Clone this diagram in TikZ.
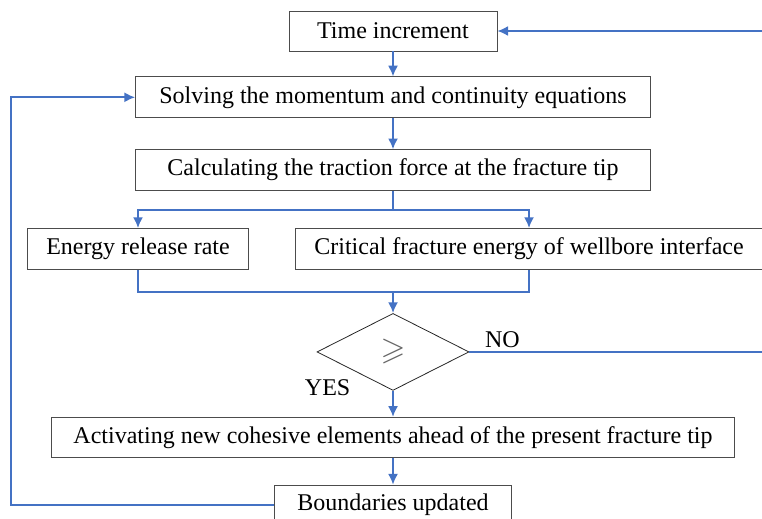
\documentclass[tikz,border=0pt]{standalone}
\usepackage{amsmath}
\usepackage{amssymb}
\usepackage{fontspec}
\setmainfont{Liberation Serif}
\usepackage{tikz}
\usetikzlibrary{shapes.geometric, arrows.meta, positioning}
\definecolor{flowblue}{HTML}{4472C4}

\begin{document}
\begin{tikzpicture}[
    font=\fontsize{18}{21}\selectfont,
    block/.style={rectangle, draw=black!70, line width=0.6pt, minimum height=30pt, inner sep=0pt},
    decide/.style={diamond, draw=black!85, line width=0.6pt, minimum width=114pt, minimum height=57.75pt, inner sep=0pt},
    line/.style={draw=flowblue, line width=1.3pt, -{Latex[length=8pt,width=7.5pt]}},
    link/.style={draw=flowblue, line width=1.3pt}
]
    \useasboundingbox (0,0) rectangle (571.5pt,-388.5pt);

    % Nodes
    \node [block, minimum width=156pt] (time) at (294.75pt,-23.25pt) {Time increment};
    \node [block, minimum width=386.25pt, minimum height=30.75pt, below=18.75pt of time] (solve) {Solving the momentum and continuity equations};
    \node [block, minimum width=386.25pt, minimum height=30.75pt, below=23.25pt of solve] (calc) {Calculating the traction force at the fracture tip};

    \node [block, minimum width=165.75pt, minimum height=30.75pt, below=27.75pt of calc.south west, anchor=north west, xshift=-81pt] (energy) {Energy release rate};
    \node [block, minimum width=350.25pt, minimum height=30.75pt, below=27.75pt of calc.south west, anchor=north west, xshift=120pt] (crit) {Critical fracture energy of wellbore interface};

    \node [decide, below=91.5pt of calc] (dec) {\fontsize{24}{24}\selectfont\color{black!60}$\geqslant$};

    \node [block, minimum width=512.25pt, below=19.5pt of dec] (act) {Activating new cohesive elements ahead of the present fracture tip};
    \node [block, minimum width=177.75pt, below=20.25pt of act] (bound) {Boundaries updated};

    \node [right=8.25pt of dec.east, yshift=9pt] (no) {NO};
    \node [left=28.5pt of dec.south, yshift=2.25pt] (yes) {YES};

    \coordinate (rim) at (573pt,0);

    % Paths
    \path [line] (time) -- (solve);
    \path [line] (solve) -- (calc);
    \path [link] (calc.south) -- ++(0,-14.25pt) coordinate (split);
    \path [line] (split) -| (energy.north);
    \path [line] (split) -| (crit.north);
    \path [link] (energy.south) -- ++(0,-16.5pt) coordinate (join) -| (crit.south);
    \path [line] (dec.north |- join) -- (dec.north);
    \path [line] (dec) -- (act);
    \path [line] (act) -- (bound);
    \path [line] (bound.west) -- ++(-197.25pt,0) |- (solve.west);
    \path [line] (dec.east) -- (dec.east -| rim) |- (time.east);

\end{tikzpicture}
\end{document}
